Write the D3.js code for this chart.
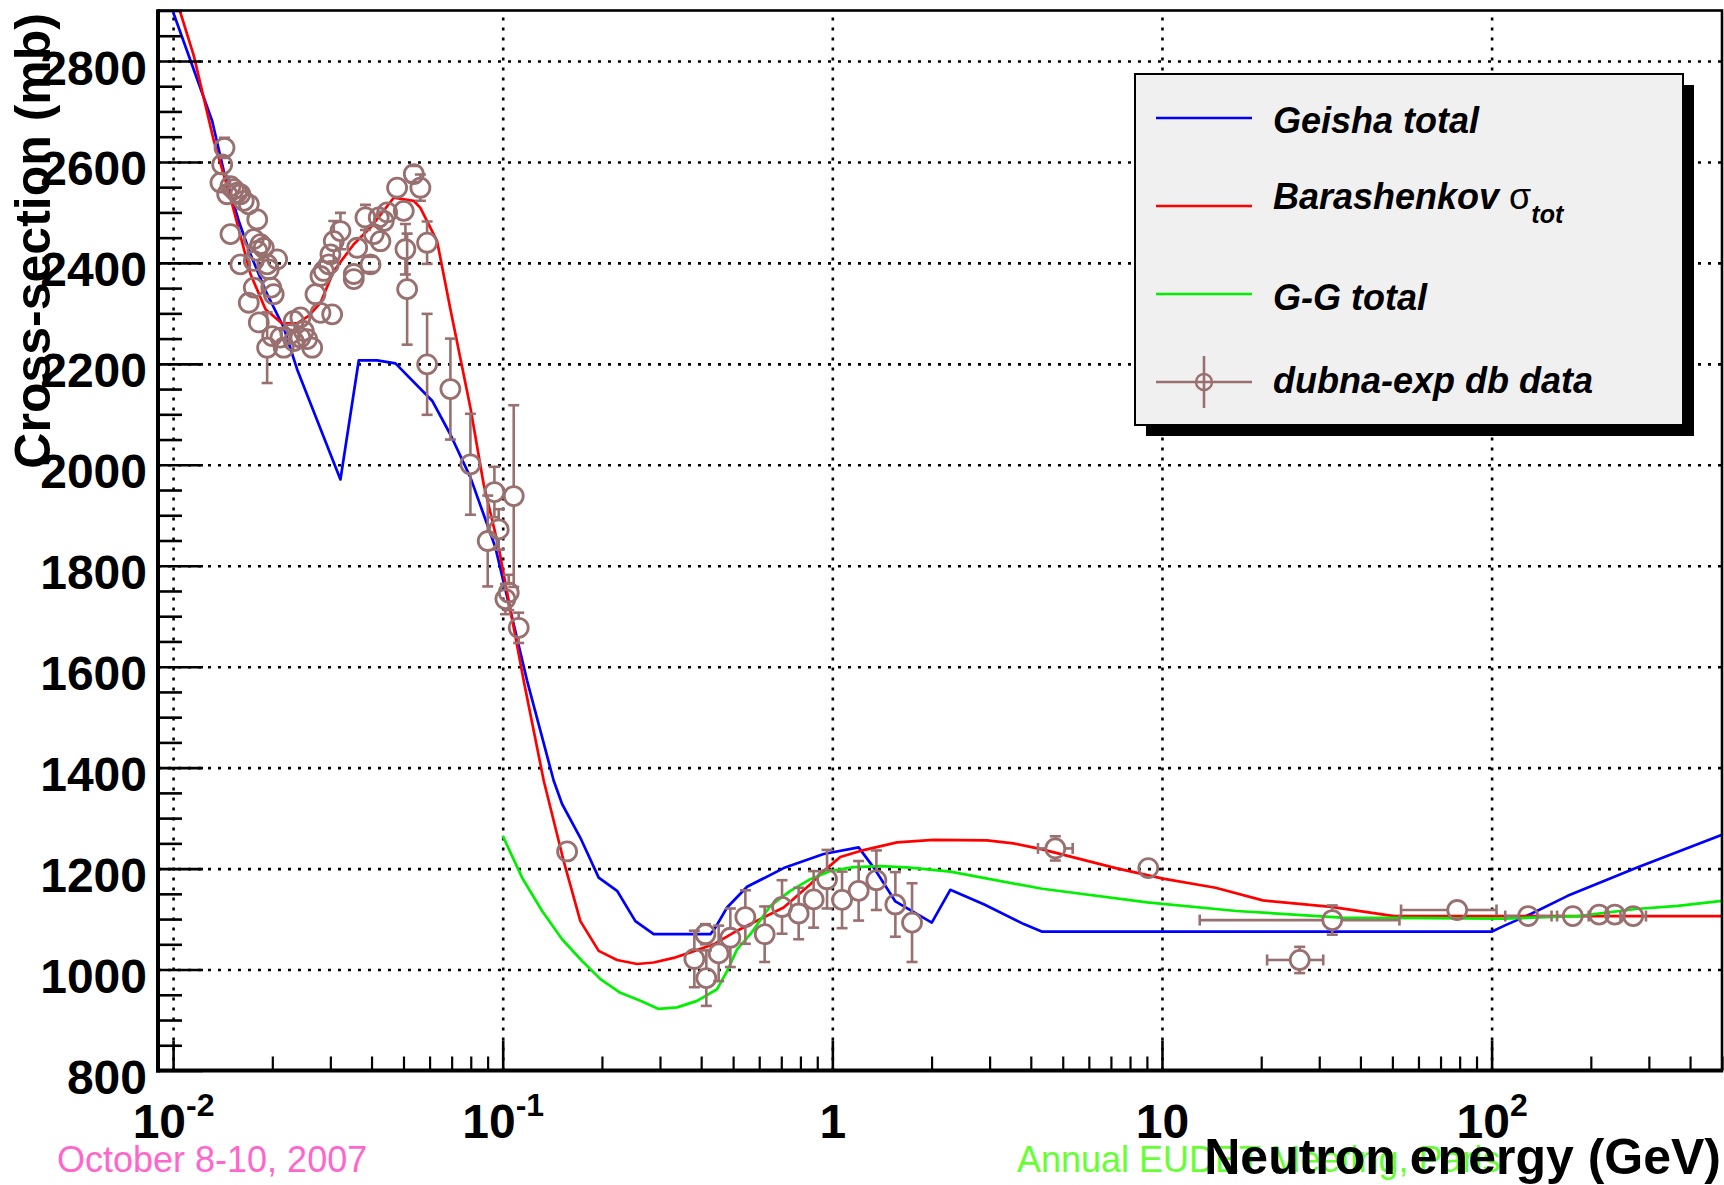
<!DOCTYPE html>
<html><head><meta charset="utf-8">
<script src="https://cdn.jsdelivr.net/npm/d3@7"></script>
<style>
body{margin:0;background:#fff}
svg{display:block}
text{font-family:"Liberation Sans",Arial,Helvetica,sans-serif}
</style>
</head><body>
<svg id="c" width="1724" height="1185"></svg>
<script>
// ---------- data ----------
const geishaE = [0.0100, 0.01314, 0.01425, 0.01582, 0.01717, 0.01929, 0.02166, 0.02379, 0.03219, 0.03659, 0.0416, 0.04727, 0.06108, 0.06939, 0.0798, 0.09504, 0.1186, 0.1428, 0.1514, 0.172, 0.1955, 0.2223, 0.2526, 0.2871, 0.4266, 0.4417, 0.4793, 0.5512, 0.7117, 0.941, 1.2017, 1.335, 1.553, 2.003, 2.279, 2.891, 3.81, 4.332, 100, 109.4, 131.5, 170.1, 274, 500];
const geishaS = [2897, 2681, 2582, 2483, 2417, 2338, 2272, 2189, 1971, 2207, 2207, 2201, 2127, 2060, 1975, 1836, 1572, 1374, 1328, 1261, 1182, 1156, 1096, 1070, 1070, 1083, 1123, 1164, 1201, 1229, 1242, 1202, 1135, 1093, 1158, 1129, 1090, 1075, 1075, 1087, 1110, 1146, 1201, 1267];

const barE = [0.0105, 0.01156, 0.01329, 0.01493, 0.01717, 0.01907, 0.02142, 0.02379, 0.02579, 0.028, 0.03072, 0.03533, 0.03971, 0.04671, 0.0537, 0.05627, 0.06324, 0.06939, 0.0798, 0.08757, 0.09725, 0.1158, 0.1332, 0.1531, 0.172, 0.1955, 0.2223, 0.2557, 0.2871, 0.3301, 0.371, 0.4365, 0.514, 0.7117, 0.8577, 0.941, 1.057, 1.216, 1.572, 2.029, 2.946, 3.54, 4.332, 7.243, 10.07, 14.54, 20.23, 32.61, 50.6, 500];
const barS = [2898, 2810, 2642, 2529, 2378, 2308, 2280, 2280, 2295, 2321, 2384, 2437, 2470, 2529, 2523, 2509, 2443, 2308, 2113, 1961, 1836, 1572, 1374, 1215, 1096, 1037, 1019, 1011, 1014, 1023, 1034, 1050, 1077, 1123, 1169, 1195, 1223, 1235, 1252, 1257, 1256, 1250, 1238, 1201, 1180, 1162, 1137, 1124, 1106, 1106];

const ggE = [0.1, 0.1145, 0.1317, 0.1514, 0.1741, 0.1979, 0.2275, 0.2617, 0.2973, 0.3381, 0.3887, 0.4469, 0.4793, 0.514, 0.564, 0.6486, 0.7457, 0.8577, 0.9861, 1.16, 1.398, 1.724, 2.28, 4.332, 9.025, 16.84, 35.08, 63.1, 109.4, 182.9, 274, 367.4, 500];
const ggS = [1265, 1182, 1116, 1060, 1017, 981, 954, 938, 922, 925, 938, 961, 997, 1040, 1070, 1126, 1156, 1179, 1195, 1203, 1205, 1202, 1194, 1160, 1133, 1116, 1103, 1102, 1101, 1106, 1120, 1126, 1136];

const dataE = [0.01432,0.01409,0.01392,0.01493,0.01528,0.01564,0.0160,0.01459,0.01638,0.01697,
  0.0180,0.01493,0.01757,0.01841,0.01884,0.0180,0.0160,0.01757,0.01929,0.02069,
  0.01951,0.01757,0.0202,0.01985,0.01697,0.0182,0.01929,0.01998,0.02117,0.02166,
  0.0227,0.02323,0.02434,0.02491,0.02642,0.02551,0.02434,0.02323,0.0280,0.03038,
  0.02704,0.0280,0.02865,0.02967,0.03002,0.03072,0.03219,0.03533,0.03533,0.03618,
  0.03833,0.03971,0.04063,0.04256,0.04206,0.04356,0.04461,0.04782,0.05009,0.05068,
  0.05129,0.05374,0.05627,0.05897,0.05897,0.06939,0.0798,0.09436,0.108,0.09725,
  0.09006,0.1043,0.1019,0.1118,0.1568,0.4120,0.3814,0.4147,0.4520,0.4904,
  0.5446,0.6233,0.7037,0.7904,0.8776,0.9636,1.0701,1.2017,1.3602,1.553,
  1.745,4.748,9.087,26.17,32.86,78.65,129.1,176.3,211.9,236.5,268.9];
const dataS = [2628,2595,2559,2552,2546,2539,2536,2536,2523,2516,
  2486,2457,2447,2437,2430,2424,2397,2404,2397,2407,
  2387,2351,2338,2351,2321,2282,2232,2255,2252,2232,
  2259,2245,2252,2265,2232,2249,2292,2285,2301,2298,
  2338,2374,2384,2397,2417,2443,2463,2378,2368,2430,
  2490,2397,2457,2443,2490,2483,2500,2549,2503,2427,
  2348,2576,2549,2440,2199,2150,2001,1946,1938,1872,
  1849,1747,1734,1677,1234,1070,1021,983,1032,1063,
  1104,1070,1124,1111,1139,1179,1138,1156,1177,1129,
  1093,1240,1201,1019,1098,1118,1106,1106,1109,1109,1106];
const dataErr = [20,0,0,0,0,0,0,0,0,0,
  0,0,0,0,0,0,0,0,0,0,
  0,0,0,0,0,0,70,0,0,0,
  0,0,0,0,0,0,0,0,0,0,
  0,0,0,0,0,40,36,0,0,0,
  25,15,0,0,0,0,0,0,0,50,
  110,16,26,42,100,100,100,50,180,40,
  90,35,30,30,0,20,56,55,55,58,
  53,55,53,51,56,58,56,59,59,64,
  78,24,0,26,29,0,0,0,0,0,0];
const dataElo = [];  // horizontal error bars: low / high energy edges (0 = none)
const dataEhi = [];
dataE.forEach(()=>{dataElo.push(0);dataEhi.push(0);});
const xErrIdx = [91, 93, 94, 95, 96, 97, 100];
const xErrLo  = [4.206, 20.84, 13.02, 53.12, 110, 158, 246];
const xErrHi  = [5.36, 30.85, 52.53, 103.5, 152, 197, 294];
xErrIdx.forEach((k,i)=>{dataElo[k]=xErrLo[i];dataEhi[k]=xErrHi[i];});

const xMajor = [0.01, 0.1, 1, 10, 100];
const xTickBase = ["10","10","1","10","10"];
const xTickExp  = ["-2","-1","","","2"];
const yMajor = [800,1000,1200,1400,1600,1800,2000,2200,2400,2600,2800];

const legendLabels = ["Geisha total","Barashenkov ","G-G total","dubna-exp db data"];

// ---------- layout ----------
const L=158, R=1722, T=10.5, B=1070.5;
const x = d3.scaleLog().domain([0.009, 500]).range([L, R]);
const y = d3.scaleLinear().domain([800, 2900]).range([B, T]);
const markerCol = "#98706f";
const green = "#00f000";

const svg = d3.select("#c");
svg.append("defs").append("clipPath").attr("id","clip")
  .append("rect").attr("x",L).attr("y",T).attr("width",R-L).attr("height",B-T);

// grid
const gGridX = svg.append("g").attr("transform",`translate(0,${B})`)
  .call(d3.axisBottom(x).tickValues(xMajor).tickSize(-(B-T)).tickFormat(""));
gGridX.select(".domain").remove();
gGridX.selectAll("line").attr("stroke","#000").attr("stroke-width",2.6).attr("stroke-dasharray","3,7");
const gGridY = svg.append("g").attr("transform",`translate(${L},0)`)
  .call(d3.axisLeft(y).tickValues(yMajor.filter(v=>v>800)).tickSize(-(R-L)).tickFormat(""));
gGridY.select(".domain").remove();
gGridY.selectAll("line").attr("stroke","#000").attr("stroke-width",2.6).attr("stroke-dasharray","3,7");

// curves
const plot = svg.append("g").attr("clip-path","url(#clip)");
const line = d3.line().x(d=>x(d[0])).y(d=>y(d[1]));
plot.append("path").datum(d3.zip(geishaE,geishaS)).attr("d",line)
  .attr("fill","none").attr("stroke","#0000ff").attr("stroke-width",2.7).attr("stroke-linejoin","round");
plot.append("path").datum(d3.zip(barE,barS)).attr("d",line)
  .attr("fill","none").attr("stroke","#ff0000").attr("stroke-width",2.7).attr("stroke-linejoin","round");
plot.append("path").datum(d3.zip(ggE,ggS)).attr("d",line)
  .attr("fill","none").attr("stroke",green).attr("stroke-width",2.7).attr("stroke-linejoin","round");

// data points
const r = 9.5, cap = 5.5;
const pts = plot.append("g").attr("stroke",markerCol).attr("stroke-width",2.6).attr("fill","none");
dataE.forEach((e,i)=>{
  const cx = x(e), cy = y(dataS[i]);
  const err = dataErr[i];
  if (err>0){
    const yt = y(dataS[i]+err), yb = y(dataS[i]-err);
    if (cy-yt > r){
      pts.append("line").attr("x1",cx).attr("x2",cx).attr("y1",yt).attr("y2",cy-r);
      pts.append("line").attr("x1",cx).attr("x2",cx).attr("y1",cy+r).attr("y2",yb);
    }
    pts.append("line").attr("x1",cx-cap).attr("x2",cx+cap).attr("y1",yt).attr("y2",yt);
    pts.append("line").attr("x1",cx-cap).attr("x2",cx+cap).attr("y1",yb).attr("y2",yb);
  }
  if (dataElo[i]>0){
    const xl = x(dataElo[i]), xh = x(dataEhi[i]);
    if (cx-xl > r) pts.append("line").attr("x1",xl).attr("x2",cx-r).attr("y1",cy).attr("y2",cy);
    if (xh-cx > r) pts.append("line").attr("x1",cx+r).attr("x2",xh).attr("y1",cy).attr("y2",cy);
    pts.append("line").attr("x1",xl).attr("x2",xl).attr("y1",cy-cap).attr("y2",cy+cap);
    pts.append("line").attr("x1",xh).attr("x2",xh).attr("y1",cy-cap).attr("y2",cy+cap);
  }
  pts.append("circle").attr("cx",cx).attr("cy",cy).attr("r",r).attr("stroke-width",2.8);
});

// axes
const yMinor = d3.range(800, 2901, 50).filter(v=>v%200!==0);
const gyMin = svg.append("g").attr("transform",`translate(${L},0)`)
  .call(d3.axisLeft(y).tickValues(yMinor).tickSize(-24).tickFormat(""));
gyMin.select(".domain").remove();
gyMin.selectAll("line").attr("stroke","#000").attr("stroke-width",2.6);

const gy = svg.append("g").attr("transform",`translate(${L},0)`)
  .call(d3.axisLeft(y).tickValues(yMajor).tickSize(-45).tickSizeOuter(0).tickPadding(11).tickFormat(d3.format("d")));
gy.select(".domain").remove();
gy.selectAll("line").attr("stroke","#000").attr("stroke-width",2.6);
gy.selectAll("text").attr("font-size",48).attr("font-weight","bold").attr("fill","#000")
  .attr("font-family","'Liberation Sans',Arial,sans-serif").attr("dy","0.48em");

const xMinor = [];
[0.01,0.1,1,10,100].forEach(d=>{for(let k=2;k<=9;k++){const v=d*k; if(v<=500) xMinor.push(v);}});
const gxMin = svg.append("g").attr("transform",`translate(0,${B})`)
  .call(d3.axisBottom(x).tickValues(xMinor).tickSize(-14).tickFormat(""));
gxMin.select(".domain").remove();
gxMin.selectAll("line").attr("stroke","#000").attr("stroke-width",2.2);

const gx = svg.append("g").attr("transform",`translate(0,${B})`)
  .call(d3.axisBottom(x).tickValues(xMajor).tickSize(-30).tickSizeOuter(0).tickFormat(""));
gx.select(".domain").remove();
gx.selectAll("line").attr("stroke","#000").attr("stroke-width",2.6);
gx.selectAll(".tick").each(function(d,i){
  const t = d3.select(this).select("text")
    .attr("y",67).attr("dy",0).attr("font-size",48).attr("font-weight","bold").attr("fill","#000")
    .attr("font-family","'Liberation Sans',Arial,sans-serif").attr("text-anchor","middle").text(null);
  t.append("tspan").text(xTickBase[i]);
  if (xTickExp[i]) t.append("tspan").attr("font-size",32).attr("dy",-22).text(xTickExp[i]);
});

// frame
svg.append("rect").attr("x",L).attr("y",T).attr("width",R-L).attr("height",B-T)
  .attr("fill","none").attr("stroke","#000").attr("stroke-width",2.6);
svg.append("line").attr("x1",L).attr("x2",L).attr("y1",T-1).attr("y2",B+2).attr("stroke","#000").attr("stroke-width",4);
svg.append("line").attr("x1",L-2).attr("x2",R+1).attr("y1",B).attr("y2",B).attr("stroke","#000").attr("stroke-width",4);

// legend
const lg = svg.append("g");
lg.append("rect").attr("x",1146).attr("y",85).attr("width",548).attr("height",351).attr("fill","#000");
lg.append("rect").attr("x",1135).attr("y",74).attr("width",548).attr("height",351)
  .attr("fill","#f0f0f0").attr("stroke","#000").attr("stroke-width",2);
const rowLine = [118, 206, 294, 382];
const rowText = [133, 209, 310, 393];
const rowCol = ["#0000ff","#ff0000",green,markerCol];
rowLine.forEach((ly,i)=>{
  lg.append("line").attr("x1",1156).attr("x2",1252).attr("y1",ly).attr("y2",ly)
    .attr("stroke",rowCol[i]).attr("stroke-width",2.6);
  const t = lg.append("text").attr("x",1273).attr("y",rowText[i]).attr("font-size",36)
    .attr("font-weight","bold").attr("font-style","italic").attr("fill","#000").text(legendLabels[i]);
  if (i===1){
    t.append("tspan").attr("font-style","normal").attr("font-weight","normal").text("σ");
    t.append("tspan").attr("font-size",25).attr("dy",14).text("tot");
  }
});
lg.append("circle").attr("cx",1204).attr("cy",382).attr("r",8).attr("fill","none").attr("stroke",markerCol).attr("stroke-width",2.4);
lg.append("line").attr("x1",1204).attr("x2",1204).attr("y1",356).attr("y2",408).attr("stroke",markerCol).attr("stroke-width",2.6);

// footer texts
svg.append("text").attr("x",57).attr("y",1172).attr("font-size",36).attr("fill","#ff66cc").text("October 8-10, 2007");
svg.append("text").attr("x",1017).attr("y",1172).attr("font-size",36).attr("fill","#66ff33").text("Annual EUDET Meeting, Paris");

// axis titles
svg.append("text").attr("x",1721).attr("y",1174).attr("text-anchor","end").attr("font-size",50)
  .attr("font-weight","bold").attr("fill","#000").text("Neutron energy (GeV)");
svg.append("text").attr("transform","translate(50,13) rotate(-90)").attr("text-anchor","end")
  .attr("font-size",50).attr("font-weight","bold").attr("fill","#000").text("Cross-section (mb)");
</script>
</body></html>
